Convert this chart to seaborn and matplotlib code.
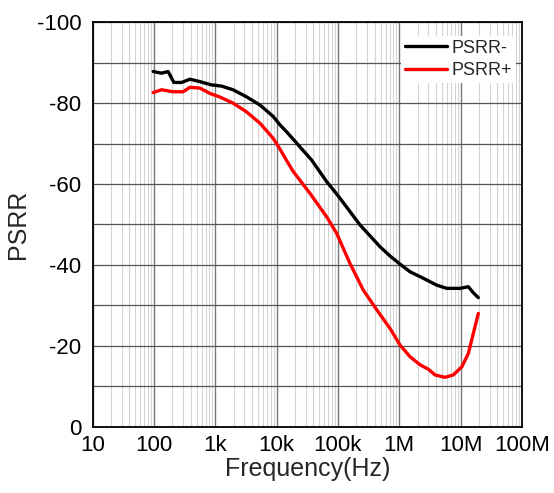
import pandas as pd
import matplotlib
matplotlib.use('Agg')
import matplotlib.pyplot as plt
import matplotlib.ticker as mticker
import seaborn as sb
import numpy as np

# PSRR- (black)
freq_minus = [97.5, 134, 171, 212, 283, 387, 563, 871, 1270, 1950, 3200, 5400, 8800,
              11400, 14600, 21300, 37400, 65600, 102000, 229000, 486000, 708000,
              1030000, 1500000, 2470000, 4080000, 5950000, 9800000, 13400000,
              16200000, 19500000]
psrr_minus = [-87.8, -87.4, -87.8, -85.1, -85.1, -85.9, -85.3, -84.5, -84.2, -83.3,
              -81.6, -79.5, -76.7, -74.6, -72.9, -70.1, -65.9, -60.6, -57.0, -49.9,
              -44.5, -42.2, -40.2, -38.3, -36.7, -35.0, -34.2, -34.2, -34.6, -33.1,
              -31.9]

# PSRR+ (red)
freq_plus = [97.5, 134, 206, 300, 387, 563, 820, 1190, 1950, 3200, 5400, 8800,
             11400, 14600, 18700, 35000, 65600, 95500, 157000, 259000, 430000,
             708000, 1030000, 1500000, 2190000, 2990000, 3840000, 5580000, 7630000,
             10500000, 13400000, 16200000, 19500000]
psrr_plus = [-82.6, -83.3, -82.8, -82.8, -83.9, -83.7, -82.4, -81.5, -80.0, -77.9,
             -75.0, -71.3, -68.6, -65.8, -63.1, -57.7, -51.9, -47.8, -40.4, -33.8,
             -28.9, -24.3, -20.2, -17.3, -15.3, -14.2, -12.8, -12.2, -12.8, -14.8,
             -18.1, -23.1, -28.0]

df = pd.concat([
    pd.DataFrame({'f': freq_minus, 'v': psrr_minus, 's': 'PSRR-'}),
    pd.DataFrame({'f': freq_plus, 'v': psrr_plus, 's': 'PSRR+'}),
])

sb.set_style('white')
plt.rcParams['font.family'] = ['Liberation Sans', 'DejaVu Sans']
plt.rcParams['axes.unicode_minus'] = False

fig = plt.figure(figsize=(5.54, 4.93), dpi=100)
ax = fig.add_axes([0.167, 0.1345, 0.775, 0.8205])

sb.lineplot(data=df, x='f', y='v', hue='s', palette={'PSRR-': 'black', 'PSRR+': '#ff0000'},
            linewidth=2.4, ax=ax, sort=True, estimator=None)

ax.set_xscale('log')
ax.set_xlim(10, 1e8)
ax.set_ylim(0, -100)
ax.xaxis.set_minor_locator(mticker.LogLocator(base=10, subs=np.arange(2, 10), numticks=20))
ax.xaxis.set_minor_formatter(mticker.NullFormatter())
ax.set_xticks([10, 100, 1e3, 1e4, 1e5, 1e6, 1e7, 1e8])
ax.set_xticklabels(['10', '100', '1k', '10k', '100k', '1M', '10M', '100M'])
ax.set_yticks([0, -20, -40, -60, -80, -100])
ax.set_yticklabels(['0', '-20', '-40', '-60', '-80', '-100'])
ax.yaxis.set_minor_locator(mticker.MultipleLocator(10))

ax.grid(which='major', axis='x', color='#777777', linewidth=1.0)
ax.grid(which='minor', axis='x', color='#d4d4d4', linewidth=0.8)
ax.grid(which='both', axis='y', color='#555555', linewidth=0.9)
ax.set_axisbelow(True)

ax.tick_params(axis='x', which='both', length=0, labelsize=16, pad=6, colors='black')
ax.tick_params(axis='y', which='both', length=0, labelsize=16, pad=8, colors='black')
for sp in ax.spines.values():
    sp.set_color('black')
    sp.set_linewidth(1.3)

ax.set_xlabel('Frequency(Hz)', fontsize=18, labelpad=1)
ax.set_ylabel('PSRR', fontsize=18, labelpad=5)

leg = ax.legend(loc='upper right', bbox_to_anchor=(0.995, 0.975), frameon=True, fontsize=13,
                handlelength=2.3, handletextpad=0.3, borderpad=0.2, labelspacing=0.3,
                borderaxespad=0.2)
leg.get_frame().set_edgecolor('none')
leg.get_frame().set_facecolor('white')
leg.get_frame().set_alpha(1)

plt.savefig('out.png', dpi=100)
